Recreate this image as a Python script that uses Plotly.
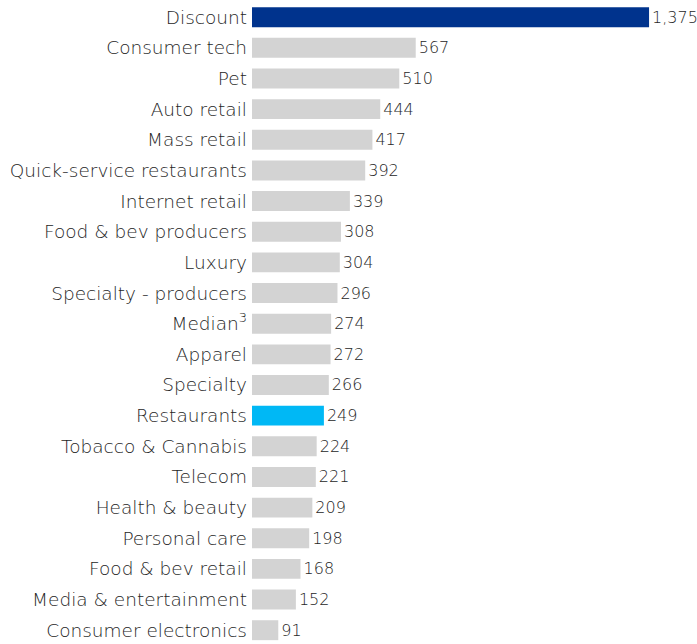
import plotly.graph_objects as go

categories = [
    "Discount", "Consumer tech", "Pet", "Auto retail", "Mass retail",
    "Quick-service restaurants", "Internet retail", "Food & bev producers",
    "Luxury", "Specialty - producers", "Median<sup>3</sup>", "Apparel",
    "Specialty", "Restaurants", "Tobacco & Cannabis", "Telecom",
    "Health & beauty", "Personal care", "Food & bev retail",
    "Media & entertainment", "Consumer electronics",
]
values = [1375, 567, 510, 444, 417, 392, 339, 308, 304, 296, 274, 272,
          266, 249, 224, 221, 209, 198, 168, 152, 91]

DARK_BLUE = "#00338D"
LIGHT_BLUE = "#00B8F5"
GREY = "#D3D3D3"
highlight = {"Discount": DARK_BLUE, "Restaurants": LIGHT_BLUE}
colors = [highlight.get(c, GREY) for c in categories]

FONT = "DejaVu Sans"
TEXT = "#262626"

fig = go.Figure(go.Bar(
    x=values,
    y=categories,
    orientation="h",
    marker=dict(color=colors, line=dict(width=0)),
    text=[f"{v:,}" for v in values],
    textposition="outside",
    textfont=dict(family=FONT, size=16, color=TEXT, weight=300),
    cliponaxis=False,
    hoverinfo="skip",
))

fig.update_layout(
    width=697,
    height=644,
    margin=dict(l=252, r=0, t=0, b=0),
    paper_bgcolor="white",
    plot_bgcolor="white",
    bargap=0.35,
    showlegend=False,
    font=dict(family=FONT, color=TEXT),
)
fig.update_xaxes(
    range=[0, 1541],
    visible=False,
    showgrid=False,
    zeroline=False,
)
fig.update_yaxes(
    type="category",
    categoryorder="array",
    categoryarray=categories,
    range=[20.45, -0.56],
    autorange=False,
    showgrid=False,
    zeroline=False,
    showline=False,
    ticks="",
    ticklabelstandoff=4,
    tickfont=dict(family=FONT, size=18.5, color=TEXT, weight=300),
)

fig.write_html("out.html")
